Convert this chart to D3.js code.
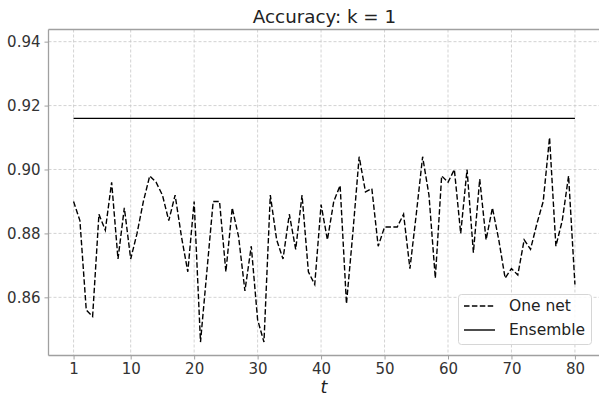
<!DOCTYPE html>
<html>
<head>
<meta charset="utf-8">
<script src="https://cdn.jsdelivr.net/npm/d3@7"></script>
<style>
  body { margin: 0; background: #fff; }
  svg { display: block; font-family: "DejaVu Sans", sans-serif; }
</style>
</head>
<body>
<svg id="chart" width="599" height="398"></svg>
<script>
const tValues = d3.range(1, 81);
const oneNet = [
  0.890, 0.884, 0.856, 0.854, 0.886, 0.881, 0.896, 0.872, 0.888, 0.872,
  0.880, 0.890, 0.898, 0.896, 0.892, 0.884, 0.892, 0.879, 0.868, 0.890,
  0.846, 0.868, 0.890, 0.890, 0.868, 0.888, 0.879, 0.862, 0.876, 0.853,
  0.846, 0.892, 0.878, 0.872, 0.886, 0.875, 0.892, 0.868, 0.864, 0.889,
  0.878, 0.890, 0.895, 0.858, 0.880, 0.904, 0.893, 0.894, 0.876, 0.882,
  0.882, 0.882, 0.886, 0.869, 0.886, 0.904, 0.892, 0.866, 0.898, 0.896,
  0.900, 0.880, 0.900, 0.874, 0.897, 0.878, 0.888, 0.878, 0.866, 0.869,
  0.867, 0.878, 0.875, 0.883, 0.890, 0.910, 0.876, 0.884, 0.898, 0.864
];
const ensembleValue = 0.916;
const xTicks = [1, 10, 20, 30, 40, 50, 60, 70, 80];
const yTicks = [0.86, 0.88, 0.90, 0.92, 0.94];
const seriesNames = ["One net", "Ensemble"];
const titleText = "Accuracy: k = 1";
const xLabel = "t";

const svg = d3.select("#chart");
const mLeft = 48.5, mRight = 600, mTop = 29.5, mBottom = 355.5;

const x = d3.scaleLinear().domain([-2.95, 83.95]).range([mLeft, mRight]);
const y = d3.scaleLinear().domain([0.8418, 0.9438]).range([mBottom, mTop]);

// grid
const grid = svg.append("g");
grid.selectAll("line.gx").data(xTicks).join("line")
  .attr("x1", d => x(d)).attr("x2", d => x(d))
  .attr("y1", mTop).attr("y2", mBottom)
  .attr("stroke", "#c8c8c8").attr("stroke-width", 0.8).attr("stroke-dasharray", "3,2");
grid.selectAll("line.gy").data(yTicks).join("line")
  .attr("x1", mLeft).attr("x2", mRight)
  .attr("y1", d => y(d)).attr("y2", d => y(d))
  .attr("stroke", "#c8c8c8").attr("stroke-width", 0.8).attr("stroke-dasharray", "3,2");

// axes
const xAxis = d3.axisBottom(x).tickValues(xTicks).tickSize(4).tickPadding(4).tickFormat(d3.format("d"));
const yAxis = d3.axisLeft(y).tickValues(yTicks).tickSize(4).tickPadding(4).tickFormat(d3.format(".2f"));

const gx = svg.append("g").attr("transform", `translate(0,${mBottom})`).call(xAxis);
const gy = svg.append("g").attr("transform", `translate(${mLeft},0)`).call(yAxis);
[gx, gy].forEach(g => {
  g.select(".domain").remove();
  g.selectAll(".tick line").attr("stroke", "#a0a0a0").attr("stroke-width", 1);
  g.selectAll(".tick text").attr("fill", "#333").style("font-size", "15px")
    .style("font-family", "DejaVu Sans, sans-serif");
});

// spines
svg.append("line").attr("x1", mLeft).attr("x2", mLeft).attr("y1", mTop).attr("y2", mBottom)
  .attr("stroke", "#a0a0a0").attr("stroke-width", 1.3);
svg.append("line").attr("x1", mLeft).attr("x2", mRight).attr("y1", mBottom).attr("y2", mBottom)
  .attr("stroke", "#a0a0a0").attr("stroke-width", 1.3);
svg.append("line").attr("x1", mLeft).attr("x2", mRight).attr("y1", mTop).attr("y2", mTop)
  .attr("stroke", "#a0a0a0").attr("stroke-width", 1.3);

// lines
const line = d3.line().x((d, i) => x(tValues[i])).y(d => y(d));
svg.append("path").datum(oneNet).attr("d", line)
  .attr("fill", "none").attr("stroke", "#000").attr("stroke-width", 1.4)
  .attr("stroke-dasharray", "5.5,2.4");
svg.append("line")
  .attr("x1", x(tValues[0])).attr("x2", x(tValues[tValues.length - 1]))
  .attr("y1", y(ensembleValue)).attr("y2", y(ensembleValue))
  .attr("stroke", "#000").attr("stroke-width", 1.4);

// title
svg.append("text").attr("x", 324.5).attr("y", 23)
  .attr("text-anchor", "middle").attr("fill", "#222")
  .style("font-size", "18.3px").text(titleText);

// x label
svg.append("text").attr("x", 324).attr("y", 393)
  .attr("text-anchor", "middle").attr("fill", "#222")
  .style("font-size", "17.5px").style("font-style", "italic").text(xLabel);

// legend
const lg = svg.append("g");
lg.append("rect").attr("x", 458.5).attr("y", 294.5).attr("width", 133).attr("height", 50)
  .attr("rx", 3).attr("fill", "#fff").attr("fill-opacity", 0.85)
  .attr("stroke", "#d6d6d6").attr("stroke-width", 1);
const legItems = lg.selectAll("g.item").data(seriesNames).join("g")
  .attr("transform", (d, i) => `translate(0,${306 + i * 24})`);
legItems.append("line").attr("x1", 464).attr("x2", 495).attr("y1", 0).attr("y2", 0)
  .attr("stroke", "#000").attr("stroke-width", 1.4)
  .attr("stroke-dasharray", (d, i) => i === 0 ? "5.5,2.4" : null);
legItems.append("text").attr("x", 509).attr("y", 0).attr("dy", "0.35em")
  .attr("fill", "#222").style("font-size", "15.5px").text(d => d);
</script>
</body>
</html>
